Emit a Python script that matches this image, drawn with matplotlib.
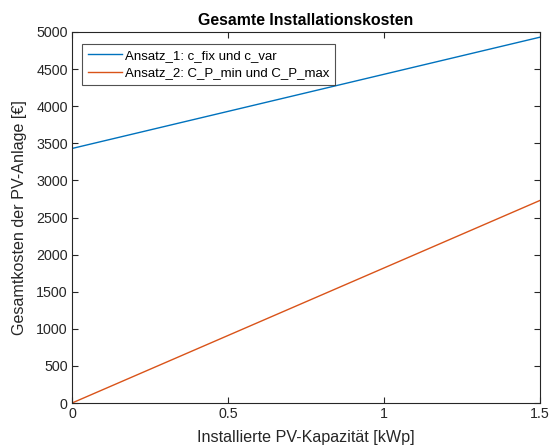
import matplotlib.pyplot as plt
import numpy as np

plt.rcParams['font.family'] = ['Liberation Sans', 'DejaVu Sans']

# Installierte Leistung [kWp]
kap = [0.0, 1.5]
# Kosten [EUR]
ansatz_1 = [3430, 4930]
ansatz_2 = [0, 2730]

fig = plt.figure(figsize=(5.56, 4.48), dpi=100)
ax = fig.add_axes([0.1295, 0.1004, 0.8417, 0.8282])

ax.plot(kap, ansatz_1, color='#0072BD', lw=1.0, label='Ansatz_1: c_fix und c_var')
ax.plot(kap, ansatz_2, color='#D95319', lw=1.0, label='Ansatz_2: C_P_min und C_P_max')

ax.set_xlim(0, 1.5)
ax.set_ylim(0, 5000)
ax.set_xticks([0, 0.5, 1, 1.5])
ax.set_xticklabels(['0', '0.5', '1', '1.5'])
ax.set_yticks(np.arange(0, 5001, 500))

grey = '#262626'
for s in ax.spines.values():
    s.set_color(grey)
    s.set_linewidth(0.8)
ax.tick_params(direction='in', top=True, right=True, length=4, width=0.8,
               colors=grey, labelsize=10.3, pad=3)

ax.set_title('Gesamte Installationskosten', fontsize=11.4, fontweight='bold', color='black', pad=5)
ax.set_xlabel('Installierte PV-Kapazität [kWp]', fontsize=11.6, color=grey, labelpad=6.5)
ax.set_ylabel('Gesamtkosten der PV-Anlage [€]', fontsize=11.6, color=grey, labelpad=6.5)

leg = ax.legend(loc='upper left', bbox_to_anchor=(0.0214, 0.968), fontsize=9.5,
                frameon=True, fancybox=False, edgecolor=grey, borderpad=0.45,
                handlelength=2.6, handletextpad=0.2, labelspacing=0.4,
                borderaxespad=0)
leg.get_frame().set_linewidth(0.8)

fig.savefig('out.png', dpi=100)
